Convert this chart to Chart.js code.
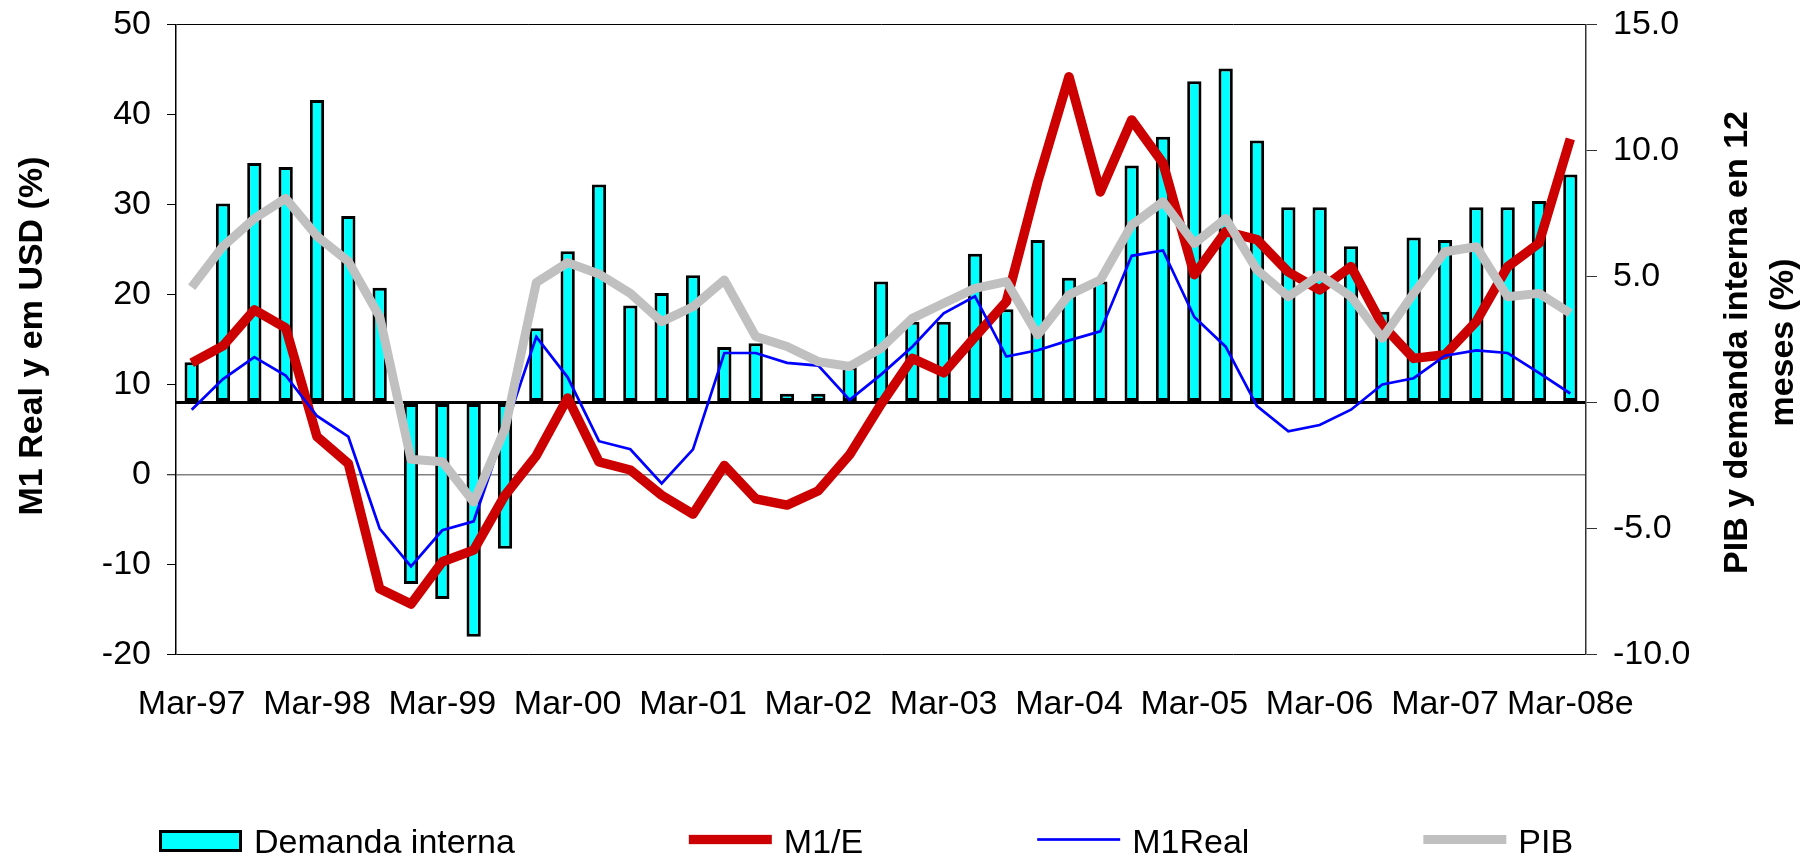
<!DOCTYPE html>
<html>
<head>
<meta charset="utf-8">
<script src="https://cdn.jsdelivr.net/npm/chart.js@4.4.1/dist/chart.umd.min.js"></script>
<style>
  html, body { margin: 0; padding: 0; background: #ffffff; }
  #wrap { width: 1802px; height: 856px; }
</style>
</head>
<body>
<div id="wrap"><canvas id="c" width="1802" height="856"></canvas></div>
<script>
// ---- Data ----
const categories = [
  'Mar-97','Jun-97','Sep-97','Dec-97',
  'Mar-98','Jun-98','Sep-98','Dec-98',
  'Mar-99','Jun-99','Sep-99','Dec-99',
  'Mar-00','Jun-00','Sep-00','Dec-00',
  'Mar-01','Jun-01','Sep-01','Dec-01',
  'Mar-02','Jun-02','Sep-02','Dec-02',
  'Mar-03','Jun-03','Sep-03','Dec-03',
  'Mar-04','Jun-04','Sep-04','Dec-04',
  'Mar-05','Jun-05','Sep-05','Dec-05',
  'Mar-06','Jun-06','Sep-06','Dec-06',
  'Mar-07','Jun-07','Sep-07','Dec-07',
  'Mar-08e'
];

// Demanda interna (right axis, %)
const demandaInterna = [
  1.6, 7.9, 9.5, 9.35,
  12.0, 7.4, 4.55, -7.2,
  -7.8, -9.3, -5.8, 2.95,
  6.0, 8.65, 3.85, 4.35,
  5.05, 2.2, 2.35, 0.35,
  0.35, 1.4, 4.8, 3.2,
  3.2, 5.9, 3.7, 6.45,
  4.95, 4.8, 9.4, 10.55,
  12.75, 13.25, 10.4, 7.75,
  7.75, 6.2, 3.6, 6.55,
  6.45, 7.75, 7.75, 8.0,
  9.05
];

// M1/E (left axis, %)
const m1E = [
  12.4, 14.3, 18.3, 16.3,
  4.2, 1.2, -12.7, -14.4,
  -9.7, -8.4, -2.3, 2.1,
  8.5, 1.4, 0.5, -2.3,
  -4.4, 1.0, -2.7, -3.4,
  -1.8, 2.2, 7.8, 12.9,
  11.3, 15.3, 19.2, 32.5,
  44.2, 31.4, 39.4, 34.6,
  22.2, 27.0, 26.1, 22.5,
  20.5, 23.1, 16.6, 12.9,
  13.3, 17.0, 23.1, 25.7,
  37.3
];

// M1Real (left axis, %)
const m1Real = [
  7.2, 10.6, 13.05, 11.0,
  6.5, 4.2, -6.0, -10.2,
  -6.2, -5.2, 5.0, 15.3,
  10.8, 3.7, 2.8, -1.0,
  2.8, 13.5, 13.5, 12.4,
  12.1, 8.3, 11.1, 14.2,
  17.9, 19.8, 13.1, 13.8,
  14.9, 15.9, 24.3, 24.9,
  17.5, 14.2, 7.6, 4.8,
  5.5, 7.2, 10.0, 10.7,
  13.2, 13.8, 13.5, 11.3,
  9.0
];

// PIB (right axis, %)
const pib = [
  4.57, 6.2, 7.3, 8.1,
  6.6, 5.6, 3.4, -2.25,
  -2.35, -3.95, -1.05, 4.76,
  5.55, 5.1, 4.33, 3.21,
  3.8, 4.86, 2.62, 2.22,
  1.62, 1.43, 2.15, 3.34,
  3.94, 4.53, 4.8, 2.68,
  4.27, 4.86, 7.04, 7.97,
  6.31, 7.3, 5.26, 4.2,
  5.06, 4.2, 2.55, 4.33,
  5.98, 6.18, 4.2, 4.33,
  3.54
];

const seriesNames = ['Demanda interna', 'M1/E', 'M1Real', 'PIB'];
const leftTitle = 'M1 Real y em USD (%)';
const rightTitle = ['PIB y demanda interna en 12', 'meses (%)'];
const leftTicks = { min: -20, max: 50, step: 10 };
const rightTicks = { min: -10, max: 15, step: 5 };

// ---- Chart ----
const FONT = '"Liberation Sans", Arial, Helvetica, sans-serif';
Chart.defaults.font.family = FONT;
Chart.defaults.font.size = 34;
Chart.defaults.color = '#000';

const overlay = {
  id: 'overlay',
  afterDraw(chart) {
    const ctx = chart.ctx;
    const ca = chart.chartArea;
    const midY = (ca.top + ca.bottom) / 2;
    ctx.save();
    ctx.fillStyle = '#000';
    ctx.textAlign = 'center';
    ctx.textBaseline = 'alphabetic';
    ctx.font = 'bold 34px ' + FONT;
    const drawV = (text, x, y) => {
      ctx.save();
      ctx.translate(x, y);
      ctx.rotate(-Math.PI / 2);
      ctx.fillText(text, 0, 0);
      ctx.restore();
    };
    drawV(leftTitle, 41.5, midY - 3.5);
    drawV(rightTitle[0], 1746.5, midY + 3);
    drawV(rightTitle[1], 1793, midY + 3);

    // Legend
    ctx.font = '34px ' + FONT;
    ctx.textAlign = 'left';
    const ds = chart.data.datasets;
    let x = 159;
    const swW = 83;
    ds.forEach((d) => {
      if (d.type === 'bar') {
        ctx.fillStyle = d.borderColor;
        ctx.fillRect(x, 830, swW, 22);
        ctx.fillStyle = d.backgroundColor;
        ctx.fillRect(x + 3, 833, swW - 6, 16);
      } else {
        ctx.fillStyle = d.borderColor;
        const h = Math.min(d.borderWidth, 9.3);
        ctx.fillRect(x, 839.5 - h / 2, swW, h);
      }
      ctx.fillStyle = '#000';
      const tx = x + swW + 12;
      ctx.fillText(d.label, tx, 852.5);
      x = tx + ctx.measureText(d.label).width + 174;
    });
    ctx.restore();
  }
};

new Chart(document.getElementById('c'), {
  type: 'bar',
  data: {
    labels: categories,
    datasets: [
      {
        type: 'bar',
        label: seriesNames[0],
        data: demandaInterna,
        yAxisID: 'y1',
        backgroundColor: '#00FFFF',
        borderColor: '#000000',
        borderWidth: 3,
        borderSkipped: false,
        barPercentage: 0.456,
        categoryPercentage: 1.0,
        order: 4
      },
      {
        type: 'line',
        label: seriesNames[1],
        data: m1E,
        yAxisID: 'y',
        borderColor: '#CC0000',
        backgroundColor: '#CC0000',
        borderWidth: 9.5,
        pointRadius: 0,
        tension: 0,
        fill: false,
        borderJoinStyle: 'round',
        order: 3
      },
      {
        type: 'line',
        label: seriesNames[2],
        data: m1Real,
        yAxisID: 'y',
        borderColor: '#0000FF',
        backgroundColor: '#0000FF',
        borderWidth: 2.7,
        pointRadius: 0,
        tension: 0,
        fill: false,
        order: 2
      },
      {
        type: 'line',
        label: seriesNames[3],
        data: pib,
        yAxisID: 'y1',
        borderColor: '#C0C0C0',
        backgroundColor: '#C0C0C0',
        borderWidth: 9,
        pointRadius: 0,
        tension: 0,
        fill: false,
        borderJoinStyle: 'round',
        order: 1
      }
    ]
  },
  options: {
    responsive: false,
    animation: false,
    devicePixelRatio: 1,
    layout: { padding: { top: 24.5, left: 0, right: 0, bottom: 0 } },
    plugins: {
      legend: { display: false },
      tooltip: { enabled: false },
      title: { display: false }
    },
    scales: {
      x: {
        type: 'category',
        offset: true,
        grid: { display: false, drawTicks: false },
        border: { display: false },
        ticks: {
          autoSkip: false,
          maxRotation: 0,
          minRotation: 0,
          padding: 30,
          color: '#000',
          font: { size: 34 },
          callback: function (value, index) {
            return index % 4 === 0 ? this.getLabelForValue(value) : '';
          }
        },
        afterFit: (s) => { s.height = 201.5; s.paddingLeft = 0; s.paddingRight = 0; }
      },
      y: {
        position: 'left',
        min: leftTicks.min,
        max: leftTicks.max,
        ticks: { stepSize: leftTicks.step, padding: 16, color: '#000', font: { size: 34 } },
        grid: {
          drawOnChartArea: true,
          drawTicks: true,
          tickLength: 9,
          tickColor: '#000',
          tickWidth: 1,
          color: (c) => {
            const v = c.tick && c.tick.value;
            if (v === 0) return '#808080';
            if (v === leftTicks.max || v === leftTicks.min) return '#000';
            return 'rgba(0,0,0,0)';
          },
          lineWidth: (c) => (c.tick && c.tick.value === 0 ? 1.5 : 1)
        },
        border: { display: true, color: '#000', width: 1.5 },
        afterFit: (s) => { s.width = 176; s.paddingTop = 0; s.paddingBottom = 0; }
      },
      y1: {
        position: 'right',
        min: rightTicks.min,
        max: rightTicks.max,
        ticks: {
          stepSize: rightTicks.step,
          padding: 16,
          color: '#000',
          font: { size: 34 },
          callback: (v) => Number(v).toFixed(1)
        },
        grid: {
          drawOnChartArea: true,
          drawTicks: true,
          tickLength: 11,
          tickColor: '#333',
          tickWidth: 1,
          color: (c) => (c.tick && c.tick.value === 0 ? '#000' : 'rgba(0,0,0,0)'),
          lineWidth: (c) => (c.tick && c.tick.value === 0 ? 3 : 1)
        },
        border: { display: true, color: '#333', width: 1.5 },
        afterFit: (s) => { s.width = 216; s.paddingTop = 0; s.paddingBottom = 0; }
      }
    }
  },
  plugins: [overlay]
});
</script>
</body>
</html>
